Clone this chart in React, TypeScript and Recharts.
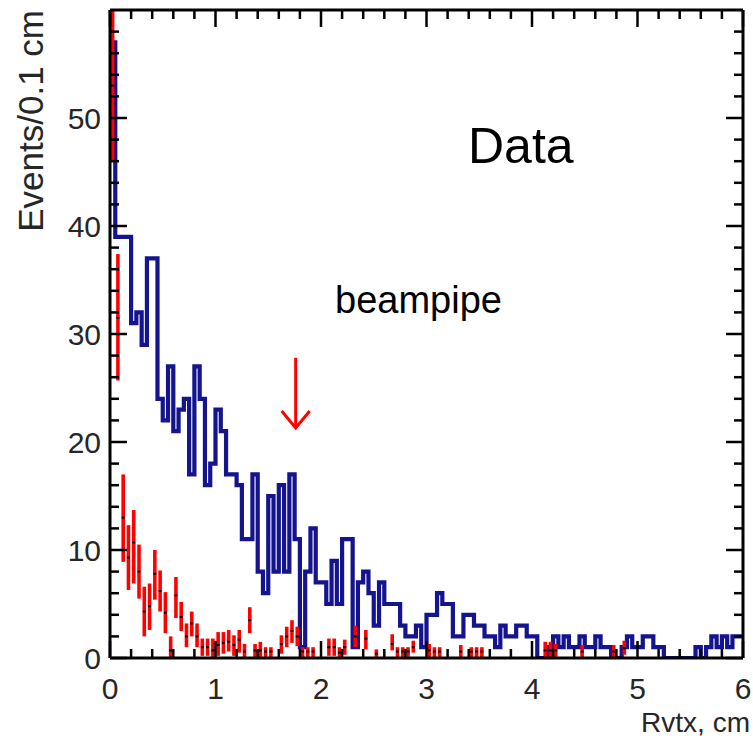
import React from "react";
import { ComposedChart, Line, Scatter, ErrorBar, XAxis, YAxis, ReferenceLine } from "recharts";

const BIN_WIDTH = 0.05;

// blue histogram (Data), one count per 0.05 cm bin from 0 to 6 cm
const blueCounts = [
  57, 39, 39, 39, 31, 32, 29, 37, 37, 24,
  22, 27, 21, 23, 24, 17, 27, 24, 16, 18,
  23, 21, 17, 17, 16, 11, 11, 17, 8, 6,
  15, 8, 16, 8, 17, 11, 1, 8, 12, 7,
  7, 5, 9, 5, 11, 11, 1, 7, 8, 6,
  3, 7, 5, 5, 5, 3, 2, 2, 3, 1,
  4, 4, 6, 5, 5, 2, 2, 4, 4, 3,
  3, 2, 2, 1, 3, 2, 2, 3, 3, 2,
  2, 0, 0, 1, 2, 1, 2, 1, 1, 2,
  1, 1, 2, 1, 1, 0, 0, 1, 2, 1,
  1, 2, 2, 1, 1, 0, 0, 0, 0, 0,
  0, 1, 0, 1, 2, 1, 2, 1, 2, 2,
];

// red points: bin index, value, lower and upper end of the error bar
const redBins = [
  0, 1, 2, 3, 4, 5, 6, 7, 8, 9, 10, 11, 12, 13, 14, 15, 16, 17, 18, 19,
  20, 21, 22, 23, 24, 25, 26, 27, 28, 29, 30, 32, 33, 34, 35, 36, 37, 38,
  41, 42, 43, 44, 46, 48, 50, 53, 54, 55, 56, 57, 60, 61, 62, 66, 68, 69, 70,
  82, 83, 84, 89, 95, 97,
];
const redValues = [
  53, 31.5, 13, 9.3, 10.7, 8, 4.3, 4.8, 7.8, 6.2, 4.2, 0.7, 5.8, 3.8, 2, 3.2, 2, 1, 1, 0.7,
  1.2, 1.4, 1.5, 1.2, 1.7, 0.6, 3.5, 0.7, 0.7, 0.6, 0.6, 1.3, 2.0, 2.5, 2.0, 0.6, 0.6, 0.6,
  1.0, 1.0, 0.5, 1.0, 2.0, 1.8, 0.4, 1.3, 0.6, 0.6, 0.6, 1.0, 0.7, 0.6, 0.6, 0.6, 0.6, 0.6, 0.6,
  0.7, 0.7, 0.7, 0.6, 0.6, 0.9,
];
const redLow = [
  46, 25.7, 8.9, 6.3, 6.9, 5.5, 2.0, 2.6, 5.4, 4.3, 2.3, 0, 3.7, 2.5, 1, 2, 1, 0.2, 0.2, 0,
  0.2, 0.4, 0.6, 0.2, 0.5, 0, 2.3, 0.1, 0.1, 0.1, 0.1, 0.4, 1.0, 1.4, 1.1, 0.1, 0.1, 0.1,
  0.2, 0.2, 0.1, 0.3, 1.0, 0.8, 0.1, 0.7, 0.1, 0.1, 0.1, 0.5, 0.1, 0.1, 0.1, 0.1, 0.1, 0.1, 0.1,
  0.1, 0.1, 0.1, 0.1, 0.1, 0.3,
];
const redHigh = [
  60, 37.4, 17, 12.3, 13.7, 10.5, 6.6, 6.9, 10, 8.1, 6.1, 2, 7.5, 5.2, 3.2, 4.3, 3.2, 1.8, 1.8, 1.8,
  2.4, 2.4, 2.6, 2.1, 2.6, 1.3, 4.7, 1.3, 1.5, 1.0, 1.0, 2.1, 2.9, 3.5, 2.9, 1.0, 1.0, 1.0,
  1.8, 1.8, 1.0, 1.7, 3.0, 2.6, 0.8, 2.2, 1.0, 1.0, 1.0, 1.6, 1.3, 1.0, 1.0, 1.2, 1.0, 1.0, 1.0,
  1.5, 1.5, 1.3, 1.2, 1.2, 1.6,
];

const xTicks = [
  0, 0.2, 0.4, 0.6, 0.8, 1, 1.2, 1.4, 1.6, 1.8, 2, 2.2, 2.4, 2.6, 2.8, 3,
  3.2, 3.4, 3.6, 3.8, 4, 4.2, 4.4, 4.6, 4.8, 5, 5.2, 5.4, 5.6, 5.8, 6,
];
const xLabels = [0, 1, 2, 3, 4, 5, 6];
const yTicks = [
  0, 2, 4, 6, 8, 10, 12, 14, 16, 18, 20, 22, 24, 26, 28, 30,
  32, 34, 36, 38, 40, 42, 44, 46, 48, 50, 52, 54, 56, 58,
];
const yLabels = [0, 10, 20, 30, 40, 50];

const arrowFrom = { x: 1.76, y: 27.8 };
const arrowTo = { x: 1.76, y: 21.3 };

const blueRows = blueCounts.map((c, i) => ({ x: i * BIN_WIDTH, y: c }));
blueRows.push({ x: blueCounts.length * BIN_WIDTH, y: blueCounts[blueCounts.length - 1] });

const redRows = redBins.map((b, i) => ({
  x: (b + 0.5) * BIN_WIDTH,
  y: redValues[i],
  err: [redValues[i] - redLow[i], redHigh[i] - redValues[i]],
}));

const FONT = "'Liberation Sans', Arial, Helvetica, sans-serif";
const TEXT = "#262626";
const MAJOR = 17;
const MINOR = 9;

const isLabel = (list: number[], v: number) => list.some((l) => Math.abs(l - v) < 1e-6);

const BottomTick = ({ x, y, payload }: any) => {
  const major = isLabel(xLabels, payload.value);
  return (
    <g>
      <line x1={x} x2={x} y1={y} y2={y - (major ? MAJOR : MINOR)} stroke="#000" strokeWidth={2.5} />
      {major && (
        <text x={x} y={y + 41} textAnchor="middle" fontSize={30} fontFamily={FONT} fill={TEXT}>
          {payload.value}
        </text>
      )}
    </g>
  );
};

const TopTick = ({ x, y, payload }: any) => {
  const major = isLabel(xLabels, payload.value);
  return <line x1={x} x2={x} y1={y} y2={y + (major ? MAJOR : MINOR)} stroke="#000" strokeWidth={2.5} />;
};

const LeftTick = ({ x, y, payload }: any) => {
  const major = isLabel(yLabels, payload.value);
  return (
    <g>
      <line x1={x} x2={x + (major ? MAJOR : MINOR)} y1={y} y2={y} stroke="#000" strokeWidth={2.5} />
      {major && (
        <text x={x - 9} y={y + 11} textAnchor="end" fontSize={30} fontFamily={FONT} fill={TEXT}>
          {payload.value}
        </text>
      )}
    </g>
  );
};

const RightTick = ({ x, y, payload }: any) => {
  const major = isLabel(yLabels, payload.value);
  return <line x1={x} x2={x - (major ? MAJOR : MINOR)} y1={y} y2={y} stroke="#000" strokeWidth={2.5} />;
};

const Arrow = (props: any) => {
  const { x1, y1, x2, y2 } = props;
  return (
    <g stroke="#ff0000" strokeWidth={3} fill="none">
      <line x1={x1} y1={y1} x2={x2} y2={y2} />
      <polyline points={`${x2 - 14},${y2 - 17} ${x2},${y2} ${x2 + 14},${y2 - 17}`} />
    </g>
  );
};

const RedDot = (props: any) => {
  const { cx, cy } = props;
  if (cx == null || cy == null) return null;
  return <rect x={cx - 1.5} y={cy - 1} width={3} height={2} fill="#000" />;
};

const frame = { stroke: "#000", strokeWidth: 3 };

const App = () => {
  return (
    <div style={{ position: "absolute", left: 0, top: 0, width: 753, height: 742, background: "#fff" }}>
      <ComposedChart width={753} height={742} margin={{ top: 0, right: 0, bottom: 0, left: 0 }}>
        <XAxis
          xAxisId="b"
          type="number"
          dataKey="x"
          domain={[0, 6]}
          ticks={xTicks}
          interval={0}
          height={84}
          tickSize={0}
          tickMargin={0}
          tickLine={false}
          axisLine={frame}
          tick={(p: any) => <BottomTick {...p} />}
          allowDataOverflow
        />
        <XAxis
          xAxisId="t"
          orientation="top"
          type="number"
          dataKey="x"
          domain={[0, 6]}
          ticks={xTicks}
          interval={0}
          height={10}
          tickSize={0}
          tickMargin={0}
          tickLine={false}
          axisLine={frame}
          tick={(p: any) => <TopTick {...p} />}
          allowDataOverflow
        />
        <YAxis
          yAxisId="l"
          type="number"
          dataKey="y"
          domain={[0, 60]}
          ticks={yTicks}
          interval={0}
          width={110}
          tickSize={0}
          tickMargin={0}
          tickLine={false}
          axisLine={frame}
          tick={(p: any) => <LeftTick {...p} />}
          allowDataOverflow
        />
        <YAxis
          yAxisId="r"
          orientation="right"
          type="number"
          dataKey="y"
          domain={[0, 60]}
          ticks={yTicks}
          interval={0}
          width={10}
          tickSize={0}
          tickMargin={0}
          tickLine={false}
          axisLine={frame}
          tick={(p: any) => <RightTick {...p} />}
          allowDataOverflow
        />
        <Line
          xAxisId="b"
          yAxisId="l"
          data={blueRows}
          dataKey="y"
          type="stepAfter"
          stroke="#14148f"
          strokeWidth={4.2}
          dot={false}
          isAnimationActive={false}
        />
        <Scatter
          xAxisId="b"
          yAxisId="l"
          data={redRows}
          dataKey="y"
          shape={(p: any) => <RedDot {...p} />}
          isAnimationActive={false}
        >
          <ErrorBar dataKey="err" direction="y" width={0} stroke="#ff0000" strokeWidth={3.6} />
        </Scatter>
        <ReferenceLine xAxisId="b" yAxisId="l" segment={[arrowFrom, arrowTo]} shape={(p: any) => <Arrow {...p} />} />
      </ComposedChart>
      <svg
        width={753}
        height={742}
        style={{ position: "absolute", left: 0, top: 0, pointerEvents: "none" }}
        fontFamily={FONT}
      >
        <text x={468} y={163} fontSize={50} fill="#000">Data</text>
        <text x={335} y={313} fontSize={38} fill="#000">beampipe</text>
        <text transform="translate(43, 10) rotate(-90)" textAnchor="end" fontSize={35} fill={TEXT}>
          Events/0.1 cm
        </text>
        <text x={750} y={732} textAnchor="end" fontSize={28} fill={TEXT}>Rvtx, cm</text>
      </svg>
    </div>
  );
};

export default App;
